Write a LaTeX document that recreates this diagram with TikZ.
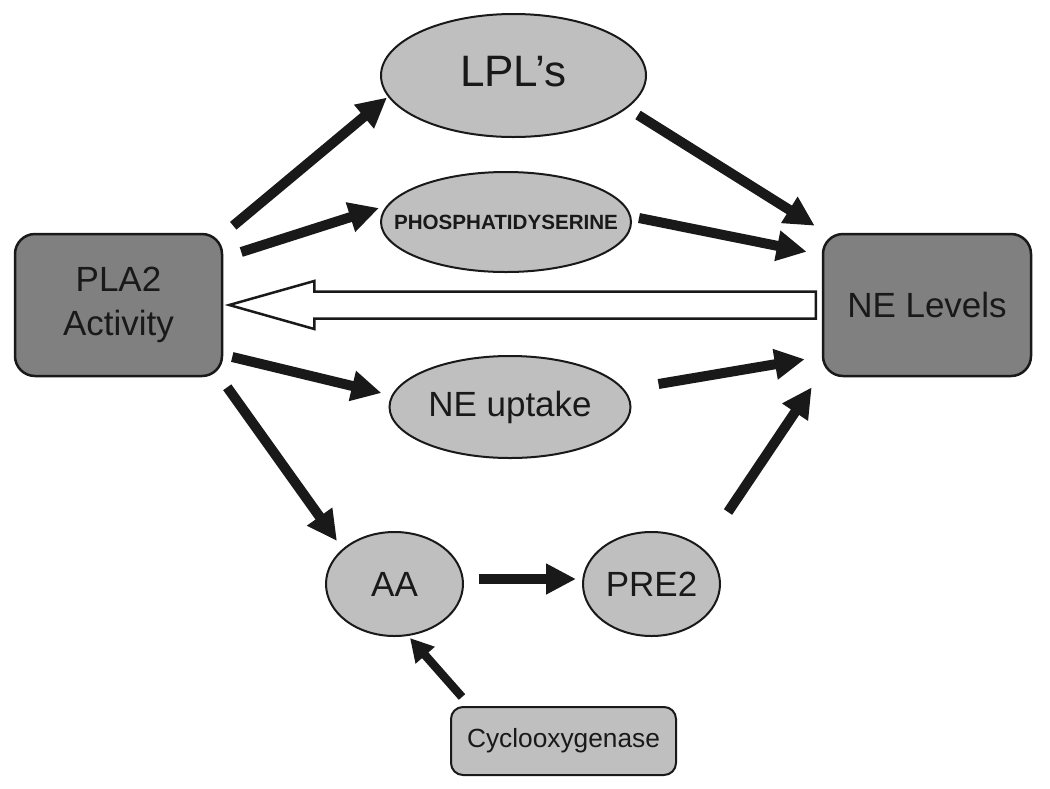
\documentclass[tikz,border=0pt]{standalone}
\usepackage{fontspec}
\setmainfont{Liberation Sans}
\usetikzlibrary{shapes.geometric,arrows.meta,calc}
\definecolor{dk}{gray}{0.5}
\definecolor{lt}{gray}{0.75}
\definecolor{ink}{gray}{0.1}
\tikzset{
  box/.style={draw=ink, line width=2.5pt, fill=dk, rounded corners=20pt, inner sep=0pt, text=ink, align=center},
  smallbox/.style={draw=ink, line width=2pt, fill=lt, rounded corners=12pt, inner sep=0pt, text=ink},
  ell/.style={ellipse, draw=ink, line width=2pt, fill=lt, inner sep=0pt, text=ink},
  arr/.style={draw=ink, line width=10pt, -{Triangle[length=30pt,width=29pt]}},
  thinarr/.style={draw=ink, line width=8.5pt, -{Triangle[length=23pt,width=24pt]}},
  hollowarr/.style={draw=ink, line width=2.5pt, fill=white, line join=miter},
  big/.style={font=\fontsize{35}{44}\selectfont},
}
\begin{document}
\begin{tikzpicture}[x=1pt,y=-1pt]
\useasboundingbox[fill=white] (0,0) rectangle (1050,788);

% nodes
\node[box, big, minimum width=207pt, minimum height=142pt] (pla) at (118.5,305) {PLA2\\Activity};
\node[box, big, minimum width=208pt, minimum height=142pt] (ne) at (927,305) {NE Levels};
\node[ell, minimum width=265pt, minimum height=123pt] (lpl) at (513.5,75.5)
  {\raisebox{8pt}{\makebox[0pt]{\fontsize{44}{50}\selectfont LPL’s}}};
\node[ell, minimum width=250pt, minimum height=100pt] (phos) at (506,222)
  {\makebox[0pt]{\fontsize{20.6}{24}\selectfont\bfseries PHOSPHATIDYSERINE}};
\node[ell, minimum width=241pt, minimum height=102pt] (upt) at (510,407)
  {\makebox[0pt]{\fontsize{35}{40}\selectfont NE uptake}};
\node[ell, minimum width=137pt, minimum height=104pt] (aa) at (394.5,584)
  {\makebox[0pt]{\fontsize{35}{40}\selectfont AA}};
\node[ell, minimum width=137pt, minimum height=104pt] (pre) at (651.5,584)
  {\makebox[0pt]{\fontsize{35}{40}\selectfont PRE2}};
\node[smallbox, minimum width=225pt, minimum height=68pt, font=\fontsize{26.3}{30}\selectfont] (cyc) at (563.5,741) {Cyclooxygenase};

% connectors
\draw[arr] ([shift={(10,-7)}]pla.north east) -- ([shift={(7,22)}]lpl.west);
\draw[arr] ([shift={(18,-53)}]pla.east) -- ([shift={(-1,-14)}]phos.west);
\draw[arr] ([shift={(124.5,39.5)}]lpl.center) -- ([shift={(-7,-7)}]ne.north west);
\draw[arr] ([shift={(7,-4)}]phos.east) -- ([shift={(-15,19)}]ne.north west);
\draw[arr] ([shift={(9,52)}]pla.east) -- ([shift={(-7,-14)}]upt.west);
\draw[arr] ([shift={(27,-23)}]upt.east) -- ([shift={(-17,-18)}]ne.south west);
\draw[arr] ([shift={(4,10)}]pla.south east) -- ([shift={(-57.5,-43)}]aa.center);
\draw[arr] ([shift={(76.5,-72)}]pre.center) -- ([shift={(-10,10)}]ne.south west);
\draw[arr] ([shift={(15,-5)}]aa.east) -- ([shift={(-6,-5)}]pre.west);
\draw[thinarr] ([shift={(-101.5,-9)}]cyc.north) -- ([shift={(15.5,1)}]aa.south);

% hollow arrow NE Levels -> PLA2
\coordinate (ht) at ([xshift=6pt]pla.east);
\coordinate (hr) at ([xshift=-6pt]ne.west);
\draw[hollowarr] (ht) -- ($(ht)+(85,-24)$) -- ($(ht)+(85,-13.5)$) -- ($(hr)+(0,-13.5)$)
  -- ($(hr)+(0,13.5)$) -- ($(ht)+(85,13.5)$) -- ($(ht)+(85,24)$) -- cycle;
\end{tikzpicture}
\end{document}
